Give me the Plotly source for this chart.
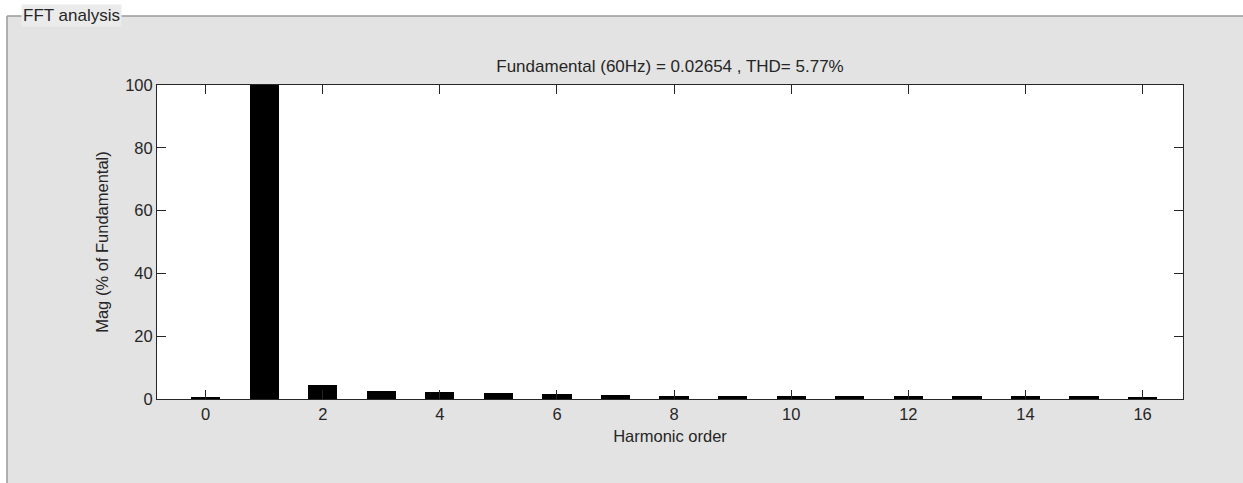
import plotly.graph_objects as go

harmonic_order = list(range(17))
magnitude_pct = [0.5, 100, 4.35, 2.7, 2.2, 1.8, 1.5, 1.4, 0.95, 0.95, 0.95, 0.9, 0.9, 0.9, 0.9, 0.9, 0.5]
x_ticks = [0, 2, 4, 6, 8, 10, 12, 14, 16]
y_ticks = [0, 20, 40, 60, 80, 100]
title_text = "Fundamental (60Hz) = 0.02654 , THD= 5.77%"
panel_title = "FFT analysis"

FONT = "Liberation Sans, Arial, sans-serif"
AX = "#262626"
PANEL = "#e3e3e3"
FS = 16.5

W, H = 1243, 483
L, T = 157, 85
PW, PH = 1026, 314
R = W - L - PW
B = H - T - PH

fig = go.Figure()
fig.add_trace(go.Bar(
    x=harmonic_order, y=magnitude_pct, width=0.5,
    marker=dict(color="black", line=dict(color="black", width=0)),
    showlegend=False,
))

fig.update_layout(
    width=W, height=H,
    margin=dict(l=L, r=R, t=T, b=B, autoexpand=False),
    paper_bgcolor=PANEL,
    plot_bgcolor="white",
    font=dict(family=FONT, size=FS, color=AX),
    bargap=0,
    title=dict(text=title_text, x=(L + PW / 2) / W, xanchor="center",
               y=1 - 66 / H, yanchor="middle",
               font=dict(family=FONT, size=17, color=AX)),
    xaxis=dict(
        range=[-0.83, 16.69], tickvals=x_ticks, ticktext=[str(v) for v in x_ticks],
        ticks="inside", ticklen=9, tickcolor=AX, tickwidth=1,
        showline=True, linecolor=AX, linewidth=1, mirror="ticks",
        showgrid=False, zeroline=False, tickfont=dict(size=FS, color=AX),
        title=dict(text="Harmonic order", standoff=8, font=dict(size=FS, color=AX)),
    ),
    yaxis=dict(
        range=[0, 100], tickvals=y_ticks, ticktext=[str(v) for v in y_ticks],
        ticks="inside", ticklen=9, tickcolor=AX, tickwidth=1,
        showline=True, linecolor=AX, linewidth=1, mirror="ticks",
        showgrid=False, zeroline=False, tickfont=dict(size=FS, color=AX),
        title=dict(text="Mag (% of Fundamental)", standoff=12, font=dict(size=FS, color=AX)),
    ),
)


def px_x(p):
    return (p - L) / PW


def px_y(p):
    return ((H - B) - p) / PH


# white surroundings outside the group box
fig.add_shape(type="rect", xref="paper", yref="paper",
              x0=px_x(-5), x1=px_x(W + 5), y0=px_y(16), y1=px_y(-5),
              line=dict(width=0), fillcolor="white", layer="below")
fig.add_shape(type="rect", xref="paper", yref="paper",
              x0=px_x(-5), x1=px_x(7), y0=px_y(H + 5), y1=px_y(-5),
              line=dict(width=0), fillcolor="white", layer="below")
# group box border
fig.add_shape(type="line", xref="paper", yref="paper",
              x0=px_x(7), x1=px_x(W + 5), y0=px_y(16), y1=px_y(16),
              line=dict(width=1.5, color="#9a9a9a"))
fig.add_shape(type="line", xref="paper", yref="paper",
              x0=px_x(7), x1=px_x(7), y0=px_y(16), y1=px_y(H + 5),
              line=dict(width=1.5, color="#9a9a9a"))
fig.add_annotation(text=panel_title, xref="paper", yref="paper",
                   x=px_x(21), y=px_y(15), xanchor="left", yanchor="middle",
                   showarrow=False, bgcolor="#ebebeb", borderpad=1,
                   font=dict(family=FONT, size=17, color=AX))

fig.write_html("out.html", config={"displayModeBar": False},
               post_script="document.body.style.margin='0';")
